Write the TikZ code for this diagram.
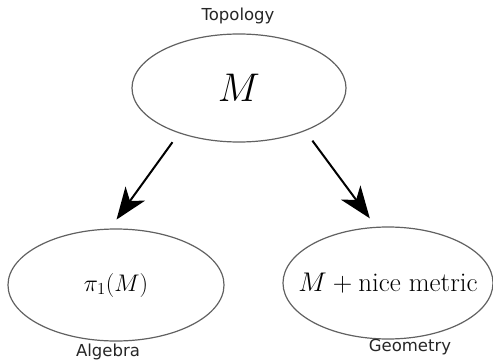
\documentclass[tikz,border=0pt]{standalone}
\usepackage{fix-cm}
\usepackage{fontspec}
\newfontfamily\labelfont{DejaVu Sans}
\usetikzlibrary{shapes.geometric,arrows.meta}
\tikzset{
  blob/.style={ellipse,draw=black!62,line width=1.2pt,inner sep=0pt},
  lab/.style={font=\labelfont\fontsize{16.5}{18}\selectfont,text=black!85,inner sep=0pt},
  arr/.style={line width=2pt,-{Stealth[length=32pt,width=24pt,inset=9pt]}}
}
\begin{document}
\begin{tikzpicture}[x=1pt,y=-1pt]
\useasboundingbox (0,0) rectangle (493,361);
\node[blob,minimum width=214pt,minimum height=108pt] (top) at (239,88)
  {\makebox[0pt]{\fontsize{40}{42}\selectfont$M$}};
\node[blob,minimum width=216pt,minimum height=112pt] (left) at (116,285)
  {\makebox[0pt]{\fontsize{24}{26}\selectfont$\pi_1(M)$}};
\node[blob,minimum width=210pt,minimum height=112pt] (right) at (388,283)
  {\makebox[0pt]{\fontsize{27}{30}\selectfont$M+\mbox{nice metric}$}};
\node[lab] (ltop) at (238,16) {Topology};
\node[lab] (lleft) at (108,352) {Algebra};
\node[lab] (lright) at (410,347) {Geometry};
\draw[arr,shorten <=11pt,shorten >=11pt] (top.217) -- (left.96);
\draw[arr,shorten <=12pt,shorten >=10.5pt] (top.-33) -- (right.102);
\end{tikzpicture}
\end{document}
